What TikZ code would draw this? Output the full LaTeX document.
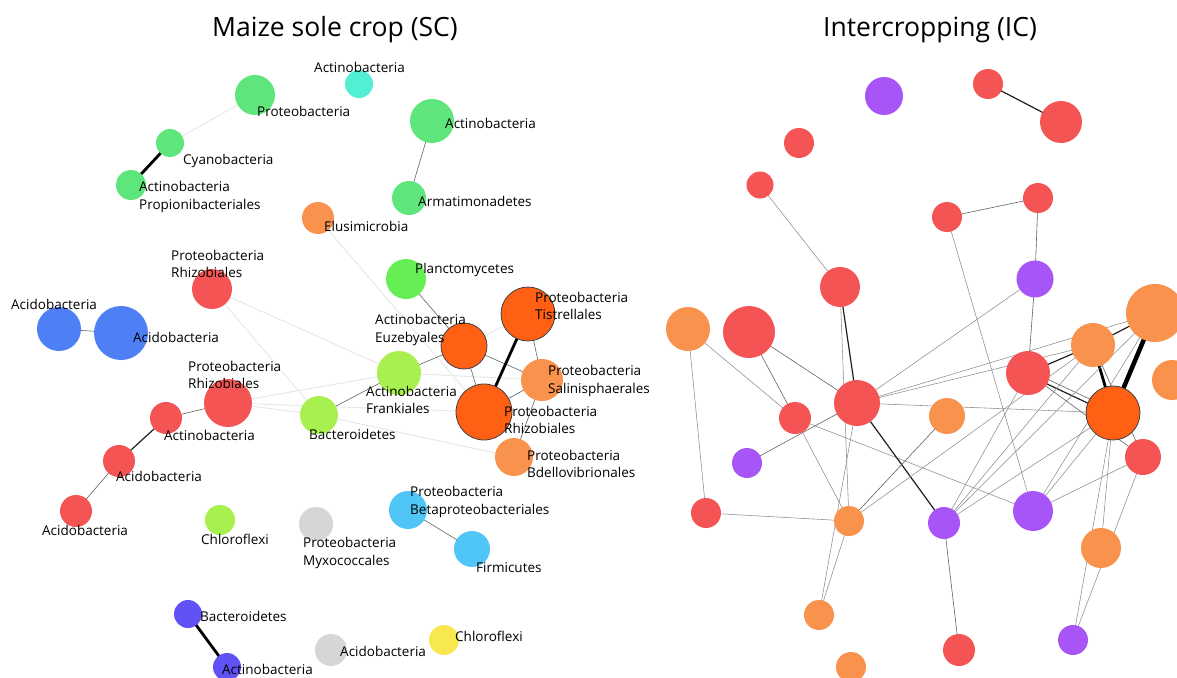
\documentclass[tikz,border=0pt]{standalone}
\usepackage{fontspec}
\setmainfont{Open Sans}
\usetikzlibrary{backgrounds}
\definecolor{cGreen}{HTML}{5EE67C}
\definecolor{cGreenB}{HTML}{66EE55}
\definecolor{cYGreen}{HTML}{A8F050}
\definecolor{cCyan}{HTML}{52F0D2}
\definecolor{cBlue}{HTML}{4F7FF5}
\definecolor{cRed}{HTML}{F55454}
\definecolor{cDOrange}{HTML}{FF6014}
\definecolor{cOrange}{HTML}{F9924C}
\definecolor{cGray}{HTML}{D6D6D6}
\definecolor{cLBlue}{HTML}{4FC6F5}
\definecolor{cIndigo}{HTML}{6052F5}
\definecolor{cYellow}{HTML}{F7E850}
\definecolor{cPurple}{HTML}{A855F7}
\tikzset{
  nd/.style={circle, inner sep=0pt, draw=none, minimum size=#1},
  bd/.style={circle, inner sep=0pt, draw=black!75, line width=0.8pt, minimum size=#1},
  lab/.style={anchor=west, inner sep=0pt, font=\fontsize{13.5}{17.5}\selectfont, align=left},
  ttl/.style={inner sep=0pt, font=\fontsize{26.5}{31}\selectfont},
  ef/.style={draw=black!9, line width=1pt},
  et/.style={draw=black!62, line width=0.6pt},
  em/.style={draw=black!88, line width=1.2pt},
  ek/.style={draw=black, line width=2.8pt},
  ekk/.style={draw=black, line width=4.5pt},
  eg/.style={draw=black!45, line width=0.55pt},
}
\begin{document}
\begin{tikzpicture}[x=1pt,y=-1pt]
\useasboundingbox (0,0) rectangle (1177,677);
% titles
\node[ttl] (t1) at (335,30) {Maize sole crop (SC)};
\node[ttl] (t2) at (930,30) {Intercropping (IC)};
% ---------------- left panel nodes
\node[nd=28, fill=cCyan]   (L1) at (359,84) {};
\node[nd=40, fill=cGreen]  (L2) at (255,95) {};
\node[nd=28, fill=cGreen]  (L3) at (170,143) {};
\node[nd=30, fill=cGreen]  (L4) at (131,185) {};
\node[nd=44, fill=cGreen]  (L5) at (432,121) {};
\node[nd=34, fill=cGreen]  (L6) at (409,198) {};
\node[nd=32, fill=cOrange] (L7) at (318,218) {};
\node[nd=40, fill=cGreenB] (L8) at (406,279) {};
\node[nd=40, fill=cRed]    (L9) at (212,289) {};
\node[nd=44, fill=cBlue]   (L10) at (59,329) {};
\node[nd=54, fill=cBlue]   (L11) at (121,333) {};
\node[bd=54, fill=cDOrange] (L12) at (528,314) {};
\node[bd=46, fill=cDOrange] (L13) at (464,346) {};
\node[nd=44, fill=cYGreen] (L14) at (399,373) {};
\node[nd=42, fill=cOrange] (L15) at (542,380) {};
\node[nd=48, fill=cRed]    (L16) at (228,403) {};
\node[bd=56, fill=cDOrange] (L17) at (484,412) {};
\node[nd=32, fill=cRed]    (L18) at (166,418) {};
\node[nd=38, fill=cYGreen] (L19) at (319,415) {};
\node[nd=38, fill=cOrange] (L20) at (514,457) {};
\node[nd=32, fill=cRed]    (L21) at (119,461) {};
\node[nd=32, fill=cRed]    (L22) at (76,511) {};
\node[nd=30, fill=cYGreen] (L23) at (220,520) {};
\node[nd=34, fill=cGray]   (L24) at (316,524) {};
\node[nd=38, fill=cLBlue]  (L25) at (408,510) {};
\node[nd=36, fill=cLBlue]  (L26) at (472,549) {};
\node[nd=28, fill=cIndigo] (L27) at (188,614) {};
\node[nd=28, fill=cIndigo] (L28) at (227,667) {};
\node[nd=32, fill=cGray]   (L29) at (331,650) {};
\node[nd=30, fill=cYellow] (L30) at (444,640) {};
% ---------------- right panel nodes
\node[nd=38, fill=cPurple] (R1) at (884,96) {};
\node[nd=30, fill=cRed]    (R2) at (988,84) {};
\node[nd=42, fill=cRed]    (R3) at (1061,122) {};
\node[nd=30, fill=cRed]    (R4) at (799,143) {};
\node[nd=27, fill=cRed]    (R5) at (760,185) {};
\node[nd=30, fill=cRed]    (R6) at (947,217) {};
\node[nd=30, fill=cRed]    (R7) at (1038,198) {};
\node[nd=37, fill=cPurple] (R8) at (1035,279) {};
\node[nd=40, fill=cRed]    (R9) at (840,287) {};
\node[nd=44, fill=cOrange] (R10) at (688,329) {};
\node[nd=52, fill=cRed]    (R11) at (749,332) {};
\node[nd=58, fill=cOrange] (R12) at (1155,313) {};
\node[nd=44, fill=cOrange] (R13) at (1093,345) {};
\node[nd=44, fill=cRed]    (R14) at (1028,373) {};
\node[nd=40, fill=cOrange] (R15) at (1172,380) {};
\node[nd=46, fill=cRed]    (R16) at (857,403) {};
\node[nd=36, fill=cOrange] (R17) at (947,416) {};
\node[nd=32, fill=cRed]    (R18) at (795,418) {};
\node[bd=54, fill=cDOrange] (R19) at (1113,413) {};
\node[nd=30, fill=cPurple] (R20) at (747,463) {};
\node[nd=36, fill=cRed]    (R21) at (1143,457) {};
\node[nd=30, fill=cRed]    (R22) at (706,513) {};
\node[nd=30, fill=cOrange] (R23) at (849,521) {};
\node[nd=32, fill=cPurple] (R24) at (944,523) {};
\node[nd=40, fill=cPurple] (R25) at (1033,511) {};
\node[nd=40, fill=cOrange] (R26) at (1101,548) {};
\node[nd=30, fill=cOrange] (R27) at (819,615) {};
\node[nd=32, fill=cRed]    (R28) at (959,650) {};
\node[nd=30, fill=cPurple] (R29) at (1073,640) {};
\node[nd=30, fill=cOrange] (R30) at (851,667) {};
% ---------------- edges (behind the nodes)
\begin{scope}[on background layer]
% left faint
\draw[ef] (L2.center) -- (L3.center);
\draw[ef] (L7.center) -- (L17.center);
\draw[ef] (L9.center) -- (L14.center);
\draw[ef] (L9.center) -- (L19.center);
\draw[ef] (L16.center) -- (L14.center);
\draw[ef] (L16.center) -- (L19.center);
\draw[ef] (L16.center) -- (L17.center);
\draw[ef] (L19.center) -- (L20.center);
\draw[ef] (L13.center) -- (L12.center);
\draw[ef] (L14.center) -- (L15.center);
% left solid
\draw[ek] (L3.center) -- (L4.center);
\draw[et] (L5.center) -- (L6.center);
\draw[et] (L10.center) -- (L11.center);
\draw[et] (L16.center) -- (L18.center);
\draw[em] (L18.center) -- (L21.center);
\draw[et] (L21.center) -- (L22.center);
\draw[et] (L8.center) -- (L13.center);
\draw[et] (L13.center) -- (L14.center);
\draw[et] (L14.center) -- (L19.center);
\draw[et] (L13.center) -- (L17.center);
\draw[et] (L13.center) -- (L15.center);
\draw[ek] (L12.center) -- (L17.center);
\draw[et] (L12.center) -- (L15.center);
\draw[et] (L17.center) -- (L15.center);
\draw[et] (L15.center) -- (L20.center);
\draw[et] (L25.center) -- (L26.center);
\draw[ek] (L27.center) -- (L28.center);
% right
\draw[em] (R2.center) -- (R3.center);
\draw[eg] (R5.center) -- (R9.center);
\draw[et] (R6.center) -- (R7.center);
\draw[eg] (R6.center) -- (R25.center);
\draw[et] (R7.center) -- (R8.center);
\draw[et] (R8.center) -- (R14.center);
\draw[eg] (R8.center) -- (R16.center);
\draw[em] (R9.center) -- (R16.center);
\draw[eg] (R9.center) -- (R23.center);
\draw[eg] (R10.center) -- (R18.center);
\draw[eg] (R10.center) -- (R22.center);
\draw[et] (R11.center) -- (R18.center);
\draw[et] (R11.center) -- (R16.center);
\draw[et] (R20.center) -- (R16.center);
\draw[eg] (R18.center) -- (R25.center);
\draw[eg] (R18.center) -- (R23.center);
\draw[eg] (R22.center) -- (R23.center);
\draw[em] (R16.center) -- (R24.center);
\draw[et] (R17.center) -- (R23.center);
\draw[eg] (R16.center) -- (R19.center);
\draw[eg] (R16.center) -- (R12.center);
\draw[eg] (R16.center) -- (R13.center);
\draw[eg] (R16.center) -- (R27.center);
\draw[eg] (R23.center) -- (R27.center);
\draw[em] (R14.center) -- (R13.center);
\draw[em] ([yshift=-2pt]R14.center) -- ([yshift=-2pt]R19.center);
\draw[et] ([yshift=3pt]R14.center) -- ([yshift=3pt]R19.center);
\draw[et] (R14.center) -- (R21.center);
\draw[ek] (R13.center) -- (R19.center);
\draw[et] (R13.center) -- (R21.center);
\draw[ekk] (R12.center) -- (R19.center);
\draw[em] (R12.center) -- (R13.center);
\draw[eg] (R24.center) -- (R14.center);
\draw[eg] (R24.center) -- (R13.center);
\draw[eg] (R24.center) -- (R19.center);
\draw[eg] (R24.center) -- (R12.center);
\draw[et] (R24.center) -- (R28.center);
\draw[eg] (R25.center) -- (R21.center);
\draw[eg] (R25.center) -- (R19.center);
\draw[eg] (R25.center) -- (R12.center);
\draw[eg] (R23.center) -- (R13.center);
\draw[eg] (R19.center) -- (R26.center);
\draw[eg] (R19.center) -- (R29.center);
\draw[eg] (R21.center) -- (R29.center);
\end{scope}
% ---------------- labels (left panel)
\node[lab] (a1)  at (314,67)  {Actinobacteria};
\node[lab] (a2)  at (257,111) {Proteobacteria};
\node[lab] (a3)  at (183,161) {Cyanobacteria};
\node[lab] (a4)  at (139,197) {Actinobacteria\\Propionibacteriales};
\node[lab] (a5)  at (445,123) {Actinobacteria};
\node[lab] (a6)  at (418,201) {Armatimonadetes};
\node[lab] (a7)  at (324,226) {Elusimicrobia};
\node[lab] (a8)  at (415,270) {Planctomycetes};
\node[lab] (a9)  at (171,264) {Proteobacteria\\Rhizobiales};
\node[lab] (a10) at (11,304)  {Acidobacteria};
\node[lab] (a11) at (133,337) {Acidobacteria};
\node[lab] (a12) at (535,306) {Proteobacteria\\Tistrellales};
\node[lab] (a13) at (375,330) {Actinobacteria\\Euzebyales};
\node[lab] (a14) at (366,400) {Actinobacteria\\Frankiales};
\node[lab] (a15) at (548,381) {Proteobacteria\\Salinisphaerales};
\node[lab] (a16) at (188,375) {Proteobacteria\\Rhizobiales};
\node[lab] (a17) at (504,420) {Proteobacteria\\Rhizobiales};
\node[lab] (a18) at (164,435) {Actinobacteria};
\node[lab] (a19) at (309,434) {Bacteroidetes};
\node[lab] (a20) at (527,464) {Proteobacteria\\Bdellovibrionales};
\node[lab] (a21) at (116,476) {Acidobacteria};
\node[lab] (a22) at (42,530)  {Acidobacteria};
\node[lab] (a23) at (201,539) {Chloroflexi};
\node[lab] (a24) at (303,553) {Proteobacteria\\Myxococcales};
\node[lab] (a25) at (410,502) {Proteobacteria\\Betaproteobacteriales};
\node[lab] (a26) at (476,568) {Firmicutes};
\node[lab] (a27) at (200,616) {Bacteroidetes};
\node[lab] (a28) at (222,669) {Actinobacteria};
\node[lab] (a29) at (340,651) {Acidobacteria};
\node[lab] (a30) at (455,636) {Chloroflexi};
\end{tikzpicture}
\end{document}
